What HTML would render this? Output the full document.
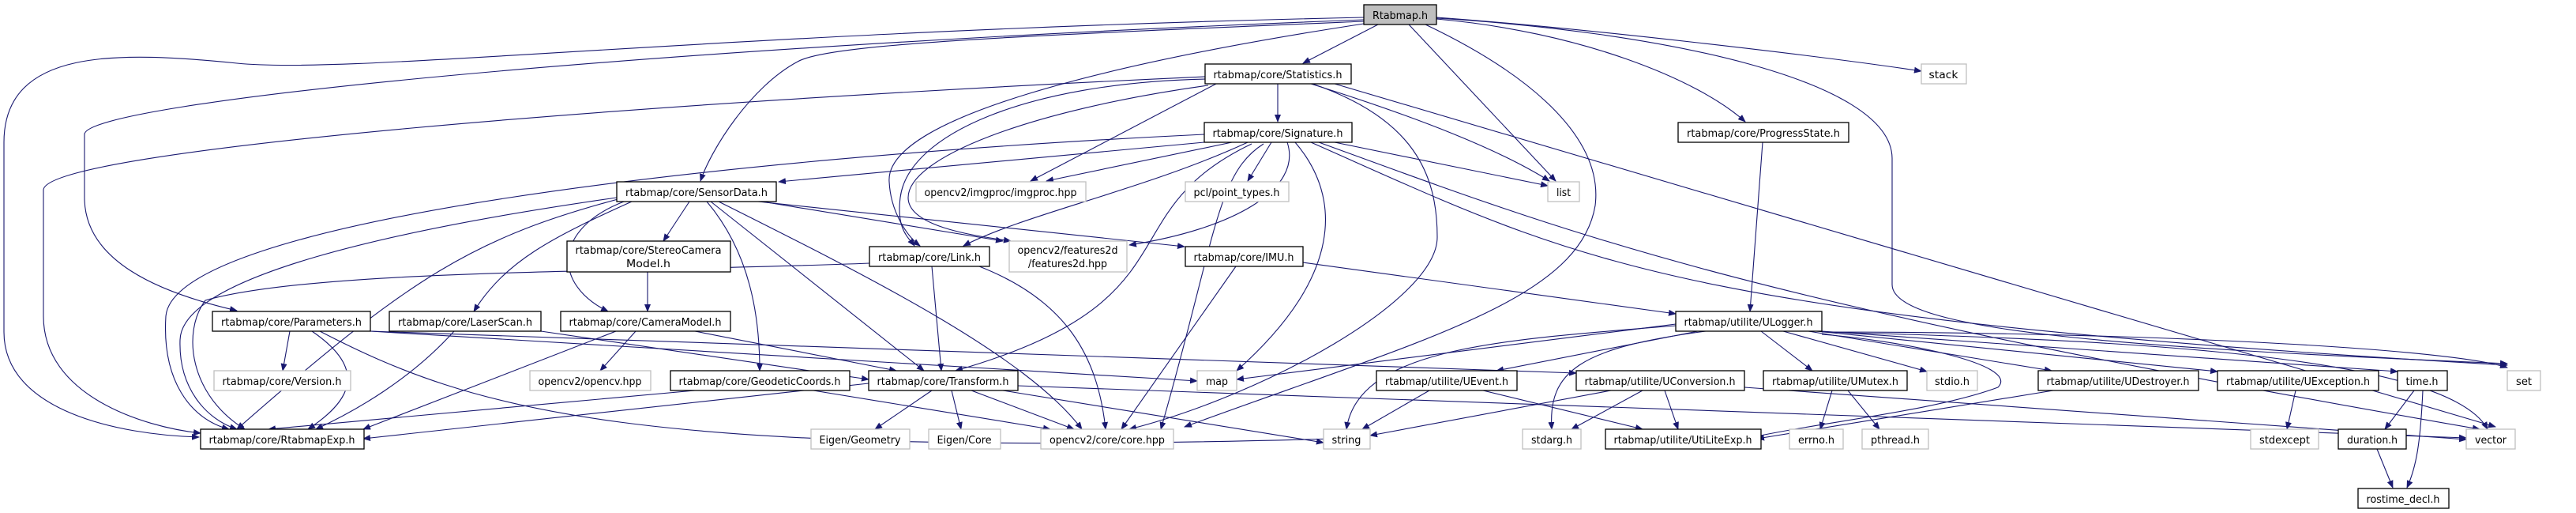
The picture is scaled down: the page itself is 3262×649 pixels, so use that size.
<!DOCTYPE html>
<html><head><meta charset="utf-8"><style>
html,body{margin:0;padding:0;background:#fff;}
svg{display:block}
text{font-family:"DejaVu Sans","Liberation Sans",sans-serif;font-size:13.5px;fill:#000}
.b{fill:#fff;stroke:#000;stroke-width:1.3}
.g{fill:#fff;stroke:#bfbfbf;stroke-width:1.3}
.e{fill:none;stroke:#191970;stroke-width:1.1}
</style></head><body>
<svg width="3262" height="649" viewBox="0 0 3262 649" xmlns="http://www.w3.org/2000/svg">
<defs><marker id="a" markerWidth="10" markerHeight="8" refX="9" refY="4" orient="auto" markerUnits="userSpaceOnUse"><path d="M0,0 L10,4 L0,8 z" fill="#191970"/></marker></defs>
<g class="e" marker-end="url(#a)">
<path d="M1727,22 C900,40 450,95 300,80 C150,65 5,60 5,180 L5,420 C5,520 150,550 252,553"/>
<path d="M1727,25 C800,60 107,130 107,170 L107,250 C107,330 200,370 300,393"/>
<path d="M1727,27 C1300,45 1050,55 1010,78 C950,110 900,190 887,229"/>
<path d="M1727,30 C1400,80 1120,150 1126,230 C1128,270 1150,300 1165,311"/>
<path d="M1745,31 L1650,80"/>
<path d="M1784,31 L1970,229"/>
<path d="M1805,31 C1950,100 2030,180 2020,260 C2000,380 1800,430 1500,540"/>
<path d="M1819,24 C2000,40 2150,100 2210,154"/>
<path d="M1819,22 C2000,35 2300,70 2433,90"/>
<path d="M1819,23 C2100,40 2395,100 2396,200 L2396,360 C2396,420 2700,440 3175,460"/>
<path d="M1526,97 C800,130 60,190 55,240 L55,400 C55,500 180,540 254,548"/>
<path d="M1618,106 L1618,154"/>
<path d="M1660,106 C1800,150 1900,190 1962,229"/>
<path d="M1690,106 L3160,540"/>
<path d="M1540,106 L1305,229"/>
<path d="M1526,100 C1300,105 1150,170 1140,250 C1135,290 1150,300 1158,311"/>
<path d="M1530,108 C1300,140 1150,200 1150,250 C1150,290 1250,300 1280,305"/>
<path d="M1662,106 C1790,150 1820,220 1820,300 C1820,380 1600,500 1430,543"/>
<path d="M1525,170 C900,200 220,280 210,400 C205,480 240,530 290,543"/>
<path d="M1525,180 L986,230"/>
<path d="M1560,180 L1325,229"/>
<path d="M1610,180 L1580,229"/>
<path d="M1690,180 L1960,235"/>
<path d="M1580,180 C1450,240 1300,270 1220,311"/>
<path d="M1630,180 C1650,240 1560,290 1430,310"/>
<path d="M1585,182 C1400,270 1520,380 1210,469"/>
<path d="M1600,182 C1540,220 1540,300 1470,543"/>
<path d="M1640,180 C1700,250 1700,350 1566,469"/>
<path d="M1660,180 C2000,330 2100,400 3175,462"/>
<path d="M1670,180 C2000,300 2200,380 3140,543"/>
<path d="M781,250 C500,290 230,350 228,430 C226,490 260,530 300,543"/>
<path d="M873,255 L840,305"/>
<path d="M790,255 C700,290 700,360 770,394"/>
<path d="M800,255 C700,300 640,330 600,394"/>
<path d="M965,255 L1270,305"/>
<path d="M960,255 L1500,312"/>
<path d="M895,255 C950,320 962,400 962,469"/>
<path d="M900,255 L1170,469"/>
<path d="M910,255 C1100,350 1300,450 1370,543"/>
<path d="M790,250 C600,300 520,350 300,543"/>
<path d="M820,344 L820,394"/>
<path d="M1101,333 C800,345 400,340 260,380 C230,420 240,500 310,543"/>
<path d="M1180,337 L1192,469"/>
<path d="M1240,337 C1350,380 1390,450 1400,543"/>
<path d="M1565,337 L1420,543"/>
<path d="M1650,332 L2122,397"/>
<path d="M2232,180 L2216,394"/>
<path d="M367,419 L358,469"/>
<path d="M395,419 C470,470 440,510 390,543"/>
<path d="M405,419 C600,520 800,580 1690,555"/>
<path d="M469,419 L1516,482"/>
<path d="M469,419 L1996,472"/>
<path d="M575,419 C520,480 450,520 400,543"/>
<path d="M685,419 L1100,480"/>
<path d="M780,419 L460,543"/>
<path d="M805,419 L760,469"/>
<path d="M880,419 L1135,469"/>
<path d="M2122,412 C1900,430 1720,440 1705,543"/>
<path d="M2122,410 L1566,480"/>
<path d="M2150,419 L1895,469"/>
<path d="M2160,419 C2000,440 1960,470 1965,543"/>
<path d="M2230,419 L2295,469"/>
<path d="M2258,419 L2440,470"/>
<path d="M2290,419 L2598,469"/>
<path d="M2300,419 L2808,470"/>
<path d="M2307,419 L3036,470"/>
<path d="M2307,420 C2700,420 3100,440 3175,465"/>
<path d="M2307,420 C2700,430 3100,450 3150,543"/>
<path d="M2307,423 C2400,430 2560,460 2530,490 C2450,520 2300,535 2220,553"/>
<path d="M880,494 L340,543"/>
<path d="M1030,494 L1330,543"/>
<path d="M1100,485 L460,555"/>
<path d="M1180,494 L1108,543"/>
<path d="M1205,494 L1217,543"/>
<path d="M1230,494 L1360,543"/>
<path d="M1270,494 L1676,560"/>
<path d="M1289,488 L3123,554"/>
<path d="M1810,494 L1725,543"/>
<path d="M1878,494 L2080,543"/>
<path d="M2040,494 L1735,551"/>
<path d="M2080,494 L1990,543"/>
<path d="M2108,494 L2125,543"/>
<path d="M2209,490 L3123,556"/>
<path d="M2320,494 L2305,543"/>
<path d="M2340,494 L2380,543"/>
<path d="M2600,494 L2225,555"/>
<path d="M2907,494 L2896,543"/>
<path d="M3057,494 L3020,543"/>
<path d="M3068,494 C3065,560 3060,590 3048,617"/>
<path d="M3010,568 L3030,617"/>
</g>
<g text-anchor="middle" lengthAdjust="spacingAndGlyphs">
<rect x="1727" y="6" width="92" height="25" fill="#bfbfbf" stroke="#000" stroke-width="1.3"/><text x="1773" y="24" textLength="70" lengthAdjust="spacingAndGlyphs">Rtabmap.h</text>
<rect class="b" x="1526" y="81" width="185" height="25"/><text x="1618" y="99" textLength="163" lengthAdjust="spacingAndGlyphs">rtabmap/core/Statistics.h</text>
<rect class="g" x="2433" y="81" width="57" height="25"/><text x="2461" y="99" textLength="37" lengthAdjust="spacingAndGlyphs">stack</text>
<rect class="b" x="1525" y="155" width="187" height="25"/><text x="1618" y="173" textLength="165" lengthAdjust="spacingAndGlyphs">rtabmap/core/Signature.h</text>
<rect class="b" x="2125" y="155" width="216" height="25"/><text x="2233" y="173" textLength="194" lengthAdjust="spacingAndGlyphs">rtabmap/core/ProgressState.h</text>
<rect class="b" x="781" y="230" width="202" height="25"/><text x="882" y="248" textLength="180" lengthAdjust="spacingAndGlyphs">rtabmap/core/SensorData.h</text>
<rect class="g" x="1160" y="230" width="215" height="25"/><text x="1267" y="248" textLength="193" lengthAdjust="spacingAndGlyphs">opencv2/imgproc/imgproc.hpp</text>
<rect class="g" x="1501" y="230" width="131" height="25"/><text x="1566" y="248" textLength="109" lengthAdjust="spacingAndGlyphs">pcl/point_types.h</text>
<rect class="g" x="1960" y="230" width="40" height="25"/><text x="1980" y="248" textLength="18" lengthAdjust="spacingAndGlyphs">list</text>
<rect class="b" x="718" y="305" width="207" height="39"/><text x="821" y="321" textLength="185" lengthAdjust="spacingAndGlyphs">rtabmap/core/StereoCamera</text><text x="821" y="338" textLength="56" lengthAdjust="spacingAndGlyphs">Model.h</text>
<rect class="b" x="1101" y="312" width="152" height="25"/><text x="1177" y="330" textLength="130" lengthAdjust="spacingAndGlyphs">rtabmap/core/Link.h</text>
<rect class="g" x="1278" y="305" width="149" height="39"/><text x="1352" y="321" textLength="127" lengthAdjust="spacingAndGlyphs">opencv2/features2d</text><text x="1352" y="338" textLength="100" lengthAdjust="spacingAndGlyphs">/features2d.hpp</text>
<rect class="b" x="1501" y="312" width="149" height="25"/><text x="1575" y="330" textLength="127" lengthAdjust="spacingAndGlyphs">rtabmap/core/IMU.h</text>
<rect class="b" x="269" y="394" width="200" height="25"/><text x="369" y="412" textLength="178" lengthAdjust="spacingAndGlyphs">rtabmap/core/Parameters.h</text>
<rect class="b" x="493" y="394" width="192" height="25"/><text x="589" y="412" textLength="170" lengthAdjust="spacingAndGlyphs">rtabmap/core/LaserScan.h</text>
<rect class="b" x="710" y="394" width="215" height="25"/><text x="817" y="412" textLength="193" lengthAdjust="spacingAndGlyphs">rtabmap/core/CameraModel.h</text>
<rect class="b" x="2122" y="394" width="185" height="25"/><text x="2214" y="412" textLength="163" lengthAdjust="spacingAndGlyphs">rtabmap/utilite/ULogger.h</text>
<rect class="g" x="271" y="469" width="173" height="25"/><text x="357" y="487" textLength="151" lengthAdjust="spacingAndGlyphs">rtabmap/core/Version.h</text>
<rect class="g" x="671" y="469" width="153" height="25"/><text x="747" y="487" textLength="131" lengthAdjust="spacingAndGlyphs">opencv2/opencv.hpp</text>
<rect class="b" x="849" y="469" width="227" height="25"/><text x="962" y="487" textLength="205" lengthAdjust="spacingAndGlyphs">rtabmap/core/GeodeticCoords.h</text>
<rect class="b" x="1100" y="469" width="189" height="25"/><text x="1194" y="487" textLength="167" lengthAdjust="spacingAndGlyphs">rtabmap/core/Transform.h</text>
<rect class="g" x="1516" y="469" width="50" height="25"/><text x="1541" y="487" textLength="28" lengthAdjust="spacingAndGlyphs">map</text>
<rect class="b" x="1743" y="469" width="178" height="25"/><text x="1832" y="487" textLength="156" lengthAdjust="spacingAndGlyphs">rtabmap/utilite/UEvent.h</text>
<rect class="b" x="1996" y="469" width="213" height="25"/><text x="2102" y="487" textLength="191" lengthAdjust="spacingAndGlyphs">rtabmap/utilite/UConversion.h</text>
<rect class="b" x="2233" y="469" width="182" height="25"/><text x="2324" y="487" textLength="160" lengthAdjust="spacingAndGlyphs">rtabmap/utilite/UMutex.h</text>
<rect class="g" x="2440" y="469" width="64" height="25"/><text x="2472" y="487" textLength="44" lengthAdjust="spacingAndGlyphs">stdio.h</text>
<rect class="b" x="2581" y="469" width="203" height="25"/><text x="2682" y="487" textLength="181" lengthAdjust="spacingAndGlyphs">rtabmap/utilite/UDestroyer.h</text>
<rect class="b" x="2808" y="469" width="204" height="25"/><text x="2910" y="487" textLength="182" lengthAdjust="spacingAndGlyphs">rtabmap/utilite/UException.h</text>
<rect class="b" x="3036" y="469" width="63" height="25"/><text x="3067" y="487" textLength="41" lengthAdjust="spacingAndGlyphs">time.h</text>
<rect class="g" x="3175" y="469" width="42" height="25"/><text x="3196" y="487" textLength="20" lengthAdjust="spacingAndGlyphs">set</text>
<rect class="b" x="254" y="543" width="207" height="25"/><text x="357" y="561" textLength="185" lengthAdjust="spacingAndGlyphs">rtabmap/core/RtabmapExp.h</text>
<rect class="g" x="1027" y="543" width="125" height="25"/><text x="1089" y="561" textLength="103" lengthAdjust="spacingAndGlyphs">Eigen/Geometry</text>
<rect class="g" x="1176" y="543" width="91" height="25"/><text x="1221" y="561" textLength="69" lengthAdjust="spacingAndGlyphs">Eigen/Core</text>
<rect class="g" x="1318" y="543" width="168" height="25"/><text x="1402" y="561" textLength="146" lengthAdjust="spacingAndGlyphs">opencv2/core/core.hpp</text>
<rect class="g" x="1676" y="543" width="59" height="25"/><text x="1705" y="561" textLength="37" lengthAdjust="spacingAndGlyphs">string</text>
<rect class="g" x="1928" y="543" width="74" height="25"/><text x="1965" y="561" textLength="52" lengthAdjust="spacingAndGlyphs">stdarg.h</text>
<rect class="b" x="2033" y="543" width="197" height="25"/><text x="2131" y="561" textLength="175" lengthAdjust="spacingAndGlyphs">rtabmap/utilite/UtiLiteExp.h</text>
<rect class="g" x="2266" y="543" width="68" height="25"/><text x="2300" y="561" textLength="46" lengthAdjust="spacingAndGlyphs">errno.h</text>
<rect class="g" x="2358" y="543" width="84" height="25"/><text x="2400" y="561" textLength="62" lengthAdjust="spacingAndGlyphs">pthread.h</text>
<rect class="g" x="2850" y="543" width="86" height="25"/><text x="2893" y="561" textLength="64" lengthAdjust="spacingAndGlyphs">stdexcept</text>
<rect class="b" x="2961" y="543" width="86" height="25"/><text x="3004" y="561" textLength="64" lengthAdjust="spacingAndGlyphs">duration.h</text>
<rect class="g" x="3123" y="543" width="62" height="25"/><text x="3154" y="561" textLength="40" lengthAdjust="spacingAndGlyphs">vector</text>
<rect class="b" x="2986" y="618" width="115" height="25"/><text x="3043" y="636" textLength="93" lengthAdjust="spacingAndGlyphs">rostime_decl.h</text>
</g>
</svg>
</body></html>
